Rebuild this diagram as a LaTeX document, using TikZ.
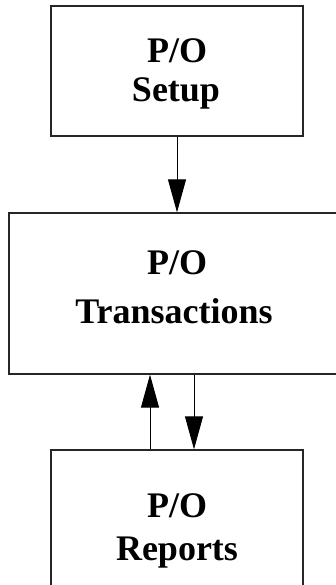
\documentclass[tikz,border=0pt]{standalone}
\usepackage{fontspec}
\setmainfont{Liberation Serif}
\usetikzlibrary{arrows.meta}
\tikzset{
  box/.style={draw=black!85, line width=1.3pt, rectangle, inner sep=0pt},
  lbl/.style={anchor=base, inner sep=0pt, font=\fontsize{36}{40}\selectfont\bfseries},
  arr/.style={draw=black, line width=1pt, -{Triangle[length=33pt, width=18pt]}}
}
\begin{document}
\begin{tikzpicture}[x=1pt, y=-1pt]
\useasboundingbox (0,0) rectangle (335,585);
% boxes
\node[box, minimum width=252pt, minimum height=130pt] (setup) at (177,71) {};
\node[box, minimum width=370pt, minimum height=161pt] (trans) at (194,293.5) {};
\node[box, minimum width=252pt, minimum height=160pt] (reports) at (177,530) {};
% labels
\node[lbl] (s1) at (177,63) {P/O};
\node[lbl] (s2) at (176,102) {Setup};
\node[lbl] (t1) at (177,274) {P/O};
\node[lbl] (t2) at (174,323) {Transactions};
\node[lbl] (r1) at (177,517) {P/O};
\node[lbl] (r2) at (177,560) {Reports};
% connectors
\coordinate (upx) at (150,0);
\coordinate (dnx) at (194,0);
\draw[arr] (setup.south) -- (setup.south |- trans.north);
\draw[arr] (reports.north -| upx) -- (trans.south -| upx);
\draw[arr] (trans.south -| dnx) -- (reports.north -| dnx);
\end{tikzpicture}
\end{document}
